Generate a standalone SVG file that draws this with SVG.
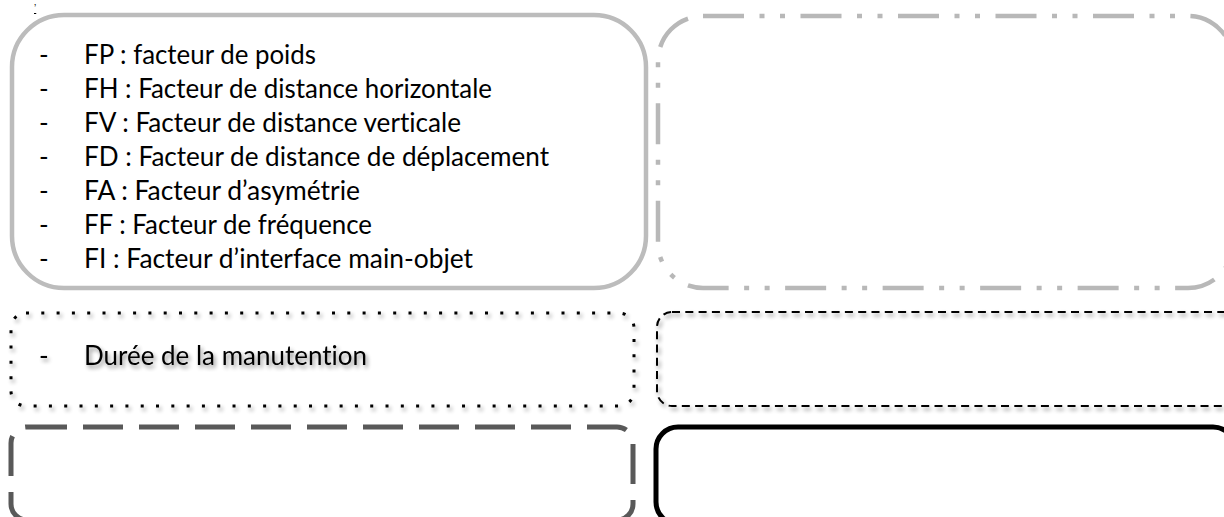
<svg xmlns="http://www.w3.org/2000/svg" width="1224" height="517" viewBox="0 0 1224 517">
<style>
.t{font-family:Lato,"Liberation Sans",sans-serif;font-size:26px;fill:#000;font-variant-ligatures:none;font-feature-settings:"liga" 0}
.box{fill:none}
.b1{stroke:#bcbcbc;stroke-width:4.5}
.b2{stroke:#b8b8b8;stroke-width:4.5;stroke-dasharray:41 15.5 5 15.5 5 15.5}
.b3{stroke:#000;stroke-width:3;stroke-dasharray:3 12.3}
.b4{stroke:#000;stroke-width:2;stroke-dasharray:8 5.3}
.b5{stroke:#595959;stroke-width:5;stroke-dasharray:40 16}
.b6{stroke:#000;stroke-width:5}
</style>
<defs>
<filter id="sh" x="-5%" y="-30%" width="110%" height="170%">
<feGaussianBlur in="SourceAlpha" stdDeviation="2"/>
<feOffset dx="2" dy="3" result="o"/>
<feComponentTransfer><feFuncA type="linear" slope="0.45"/></feComponentTransfer>
<feMerge><feMergeNode/><feMergeNode in="SourceGraphic"/></feMerge>
</filter>
</defs>
<rect width="1224" height="517" fill="#fff"/>
<text x="34" y="12" font-family="Liberation Sans,sans-serif" font-size="10" text-decoration="underline">’</text>
<g id="node-facteurs">
<path class="box b1" d="M64,15 H594 A52,52 0 0 1 646,67 V236 A52,52 0 0 1 594,288 H64 A52,52 0 0 1 12,236 V67 A52,52 0 0 1 64,15 Z"/>
<text class="t" x="39" y="64">-</text><text class="t" x="84" y="64" textLength="232" lengthAdjust="spacingAndGlyphs">FP : facteur de poids</text>
<text class="t" x="39" y="98">-</text><text class="t" x="84" y="98" textLength="408" lengthAdjust="spacingAndGlyphs">FH : Facteur de distance horizontale</text>
<text class="t" x="39" y="132">-</text><text class="t" x="84" y="132" textLength="377" lengthAdjust="spacingAndGlyphs">FV : Facteur de distance verticale</text>
<text class="t" x="39" y="166">-</text><text class="t" x="84" y="166" textLength="465" lengthAdjust="spacingAndGlyphs">FD : Facteur de distance de déplacement</text>
<text class="t" x="39" y="200">-</text><text class="t" x="84" y="200" textLength="276" lengthAdjust="spacingAndGlyphs">FA : Facteur d’asymétrie</text>
<text class="t" x="39" y="234">-</text><text class="t" x="84" y="234" textLength="288" lengthAdjust="spacingAndGlyphs">FF : Facteur de fréquence</text>
<text class="t" x="39" y="268">-</text><text class="t" x="84" y="268" textLength="389" lengthAdjust="spacingAndGlyphs">FI : Facteur d’interface main-objet</text>
</g>
<g id="node-dashdot">
<path class="box b2" d="M703,16 H1188 A45,45 0 0 1 1233,61 V243 A45,45 0 0 1 1188,288 H703 A45,45 0 0 1 658,243 V61 A45,45 0 0 1 703,16 Z"/>
</g>
<g id="node-duree" filter="url(#sh)">
<path class="box b3" d="M26,313 H619 A15,15 0 0 1 634,328 V391 A15,15 0 0 1 619,406 H26 A15,15 0 0 1 11,391 V328 A15,15 0 0 1 26,313 Z"/>
<text class="t" x="39" y="365">-</text><text class="t" x="84" y="365" textLength="283" lengthAdjust="spacingAndGlyphs">Durée de la manutention</text>
</g>
<g id="node-dashed-small" filter="url(#sh)">
<path class="box b4" d="M672,312 H1224 A15,15 0 0 1 1239,327 V391 A15,15 0 0 1 1224,406 H672 A15,15 0 0 1 657,391 V327 A15,15 0 0 1 672,312 Z"/>
</g>
<g id="node-longdash">
<path class="box b5" d="M27,427 H617 A16,16 0 0 1 633,443 V504 A16,16 0 0 1 617,520 H27 A16,16 0 0 1 11,504 V443 A16,16 0 0 1 27,427 Z"/>
</g>
<g id="node-solid">
<path class="box b6" d="M678,427 H1213 A22,22 0 0 1 1235,449 V502 A22,22 0 0 1 1213,524 H678 A22,22 0 0 1 656,502 V449 A22,22 0 0 1 678,427 Z"/>
</g>
<g id="connectors"></g>
</svg>
